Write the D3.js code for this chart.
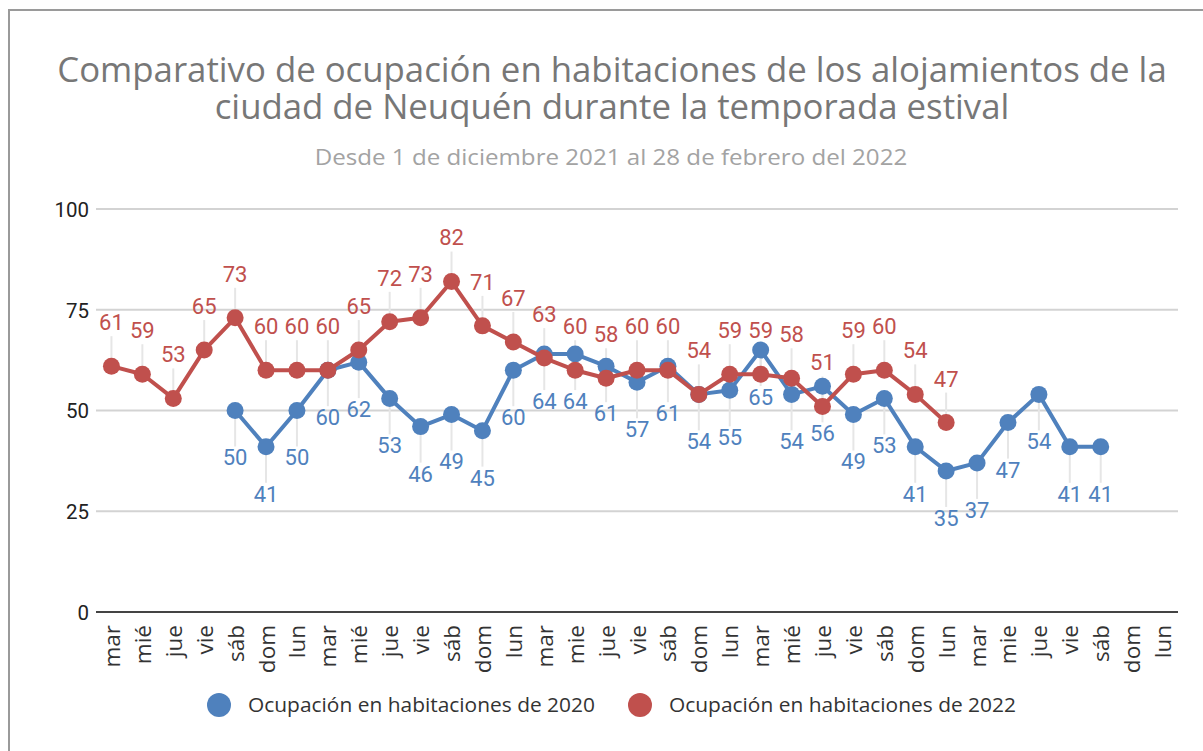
<!DOCTYPE html>
<html><head><meta charset="utf-8">
<script src="https://cdn.jsdelivr.net/npm/d3@7"></script>
<style>body{margin:0;background:#fff;}svg{display:block;}</style>
</head><body>
<svg id="c" width="1203" height="751"></svg>
<script>
const categories = ["mar","mié","jue","vie","sáb","dom","lun","mar","mié","jue","vie","sáb","dom","lun","mar","mie","jue","vie","sáb","dom","lun","mar","mié","jue","vie","sáb","dom","lun","mar","mie","jue","vie","sáb","dom","lun"];
const series2020 = [null,null,null,null,50,41,50,60,62,53,46,49,45,60,64,64,61,57,61,54,55,65,54,56,49,53,41,35,37,47,54,41,41,null,null];
const series2022 = [61,59,53,65,73,60,60,60,65,72,73,82,71,67,63,60,58,60,60,54,59,59,58,51,59,60,54,47,null,null,null,null,null,null,null];
const yTicks = [0,25,50,75,100];
const seriesNames = ["Ocupación en habitaciones de 2020","Ocupación en habitaciones de 2022"];
const titleLines = ["Comparativo de ocupación en habitaciones de los alojamientos de la","ciudad de Neuquén durante la temporada estival"];
const subtitle = "Desde 1 de diciembre 2021 al 28 de febrero del 2022";

const svg = d3.select("#c");
const blue = "#4f81bd", red = "#c0504d";

// frame
svg.append("path").attr("d","M9,751 V10 H1203").attr("fill","none").attr("stroke","#9a9a9a").attr("stroke-width",2);

// title: one text element, two lines, condensed horizontally
const tg = svg.append("g");
const tt = tg.append("text").attr("text-anchor","middle").attr("font-family","Open Sans")
  .attr("font-size",34).attr("fill","#777");
tt.append("tspan").attr("x",0).attr("y",0).text(titleLines[0]);
const w1 = tt.select("tspan").node().getComputedTextLength();
tt.append("tspan").attr("x",0).attr("y",37).text(titleLines[1]);
const tsx = 1110 / w1;
tg.attr("transform","translate(612,82) scale("+tsx+",1)");

const sg = svg.append("g");
const stx = sg.append("text").attr("text-anchor","middle").attr("font-family","Open Sans")
  .attr("font-size",22).attr("fill","#a3a3a3").text(subtitle);
sg.attr("transform","translate(611,165) scale("+(593/stx.node().getComputedTextLength())+",1)");

const x = d3.scalePoint().domain(d3.range(categories.length)).range([96,1178]).padding(0.5);
const y = d3.scaleLinear().domain([0,100]).range([612,209]);

// grid
svg.append("g").selectAll("line").data(yTicks.filter(d=>d>0)).join("line")
  .attr("x1",96).attr("x2",1178).attr("y1",d=>y(d)).attr("y2",d=>y(d))
  .attr("stroke","#d3d3d3").attr("stroke-width",2);
svg.append("line").attr("x1",96).attr("x2",1178).attr("y1",y(0)).attr("y2",y(0))
  .attr("stroke","#444").attr("stroke-width",2);

// y axis labels
const yAxis = d3.axisLeft(y).tickValues(yTicks).tickSize(0).tickPadding(0);
const gy = svg.append("g").attr("transform","translate(89,0)").call(yAxis);
gy.select(".domain").remove();
gy.selectAll("text").attr("font-family","Roboto").attr("font-size",20.5).attr("fill","#222").attr("dy","0.36em");

// x axis labels
const xAxis = d3.axisBottom(x).tickFormat(i=>categories[i]).tickSize(0);
const gx = svg.append("g").attr("transform","translate(0,"+y(0)+")").call(xAxis);
gx.select(".domain").remove();
gx.selectAll("text").attr("font-family","Open Sans").attr("font-size",22.5).attr("fill","#333")
  .attr("text-anchor","end").attr("dy",null).attr("y",0)
  .attr("transform","translate(8,13) rotate(-90)");

const data = [
  {vals: series2020, color: blue, dir: 1},
  {vals: series2022, color: red, dir: -1}
];

// leader lines
data.forEach(s=>{
  const pts = s.vals.map((v,i)=>({v,i})).filter(d=>d.v!=null);
  svg.append("g").selectAll("line").data(pts).join("line")
    .attr("x1",d=>x(d.i)).attr("x2",d=>x(d.i))
    .attr("y1",d=>y(d.v)).attr("y2",d=>y(d.v)+(s.dir>0?36:-30))
    .attr("stroke","#e6e6e6").attr("stroke-width",2);
});

data.forEach(s=>{
  const line = d3.line().defined(d=>d!=null).x((d,i)=>x(i)).y(d=>y(d));
  svg.append("path").datum(s.vals).attr("d",line).attr("fill","none")
    .attr("stroke",s.color).attr("stroke-width",4).attr("stroke-linejoin","round");
  const pts = s.vals.map((v,i)=>({v,i})).filter(d=>d.v!=null);
  svg.append("g").selectAll("circle").data(pts).join("circle")
    .attr("cx",d=>x(d.i)).attr("cy",d=>y(d.v)).attr("r",8.5).attr("fill",s.color);
});

data.forEach(s=>{
  const pts = s.vals.map((v,i)=>({v,i})).filter(d=>d.v!=null);
  svg.append("g").selectAll("text").data(pts).join("text")
    .attr("x",d=>x(d.i)).attr("y",d=>y(d.v)+(s.dir>0?47:-44)).attr("dy","0.36em")
    .attr("text-anchor","middle").attr("font-family","Roboto").attr("font-size",22)
    .attr("fill",s.color).text(d=>d.v);
});

// legend
const leg = [{name:seriesNames[0],color:blue,cx:219,tx:248},{name:seriesNames[1],color:red,cx:640,tx:669}];
leg.forEach(l=>{
  svg.append("circle").attr("cx",l.cx).attr("cy",705).attr("r",12).attr("fill",l.color);
  const g = svg.append("g");
  const t = g.append("text").attr("x",0).attr("y",0).attr("dy","0.35em")
    .attr("font-family","Open Sans").attr("font-size",19.5).attr("fill","#333").text(l.name);
  const sx = 347 / t.node().getComputedTextLength();
  g.attr("transform","translate("+l.tx+",705) scale("+sx+",1)");
});
</script>
</body></html>
